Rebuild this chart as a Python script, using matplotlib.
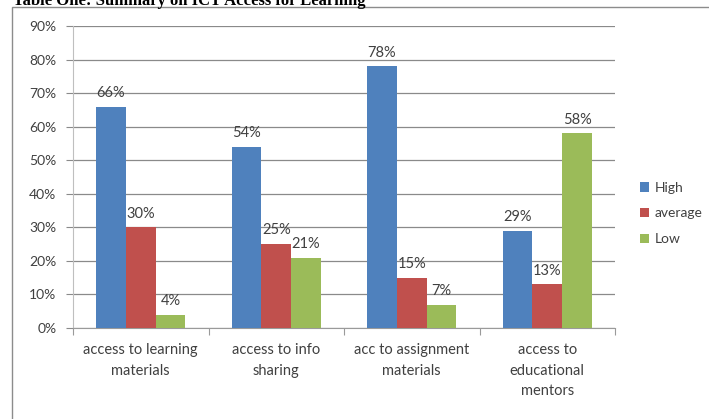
import numpy as np
import matplotlib
matplotlib.use('Agg')
import matplotlib.pyplot as plt
from matplotlib.ticker import FixedLocator, PercentFormatter

categories = ['access to learning\nmaterials', 'access to info\nsharing',
              'acc to assignment\nmaterials', 'access to\neducational\nmentors']
high = [66, 54, 78, 29]
average = [30, 25, 15, 13]
low = [4, 21, 7, 58]
series_names = ['High', 'average', 'Low']
colors = ['#4F81BD', '#C0504D', '#9BBB59']

plt.rcParams['font.family'] = ['Lato', 'DejaVu Sans']
TXT = '#404040'

fig = plt.figure(figsize=(7.09, 4.19), dpi=100)

# outer chart frame (runs off the right and bottom edges)
frame = plt.Rectangle((12 / 709, -0.05), 1.0, 1 - 7.5 / 419 + 0.05,
                      transform=fig.transFigure, fill=False,
                      edgecolor='#8C8C8C', lw=1.0)
fig.patches.append(frame)

# caption sits above the frame, partly clipped by the top edge
fig.text(13 / 709, 1 - 5 / 419, 'Table One: Summary on ICT Access for Learning',
         family='Liberation Serif', weight='bold', fontsize=12,
         va='baseline', ha='left', color='black')

ax = fig.add_axes([73 / 709, 1 - 328 / 419, (615 - 73) / 709, (328 - 26) / 419])

x = np.arange(len(categories))
w = 0.22
for i, (vals, name, col) in enumerate(zip([high, average, low], series_names, colors)):
    pos = x + (i - 1) * w
    ax.bar(pos, vals, width=w, color=col, label=name, zorder=3)
    for px, v in zip(pos, vals):
        ax.text(px, v + 2.0, f'{v}%', ha='center', va='bottom',
                fontsize=10.5, color=TXT, zorder=4)

ax.set_xlim(-0.5, len(categories) - 0.5)
ax.set_ylim(0, 90)
ax.set_yticks(np.arange(0, 91, 10))
ax.yaxis.set_major_formatter(PercentFormatter(decimals=0))
ax.grid(axis='y', color='#8A8A8A', lw=0.9, zorder=0)

ax.xaxis.set_major_locator(FixedLocator(np.arange(len(categories) + 1) - 0.5))
ax.xaxis.set_major_formatter(plt.NullFormatter())
ax.xaxis.set_minor_locator(FixedLocator(x))
ax.set_xticklabels(categories, minor=True, fontsize=10.5, color=TXT,
                   linespacing=1.6, va='top')
ax.tick_params(axis='x', which='minor', length=0, pad=11)
ax.tick_params(axis='x', which='major', length=5, color='#9A9A9A', direction='out')
ax.tick_params(axis='y', length=5, color='#8A8A8A', labelsize=10,
               labelcolor=TXT, pad=7)

for s in ['top', 'right']:
    ax.spines[s].set_visible(False)
ax.spines['left'].set_color('#BFBFBF')
ax.spines['bottom'].set_color('#9A9A9A')

leg = ax.legend(loc='upper left', bbox_to_anchor=(627 / 709, 1 - 169 / 419),
                bbox_transform=fig.transFigure, frameon=False,
                handlelength=0.7, handleheight=0.7, handletextpad=0.4,
                labelspacing=1.0, fontsize=10)
for t in leg.get_texts():
    t.set_color(TXT)

fig.savefig('out.png', dpi=100)
